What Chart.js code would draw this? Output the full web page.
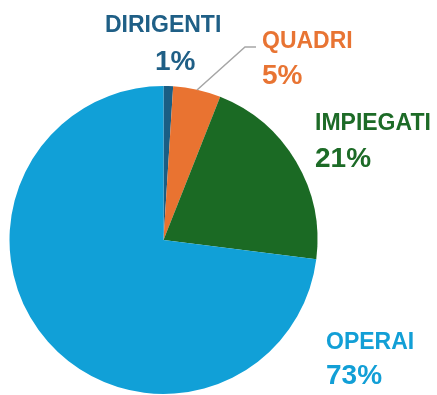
<!DOCTYPE html>
<html>
<head>
<meta charset="utf-8">
<script src="https://cdn.jsdelivr.net/npm/chart.js@4"></script>
<style>
    body { margin: 0; background: #fff; }
</style>
</head>
<body>
<canvas id="staff-chart" width="437" height="395"></canvas>
<script>
var categories = ['DIRIGENTI', 'QUADRI', 'IMPIEGATI', 'OPERAI'];
var shares = [1, 5, 21, 73];
var sliceColors = ['#1A5E84', '#E97331', '#1B6A24', '#11A0D7'];
var textColors = ['#1F5F86', '#E87433', '#1D6B27', '#129FD6'];

// where each label block sits (left x, baseline of name, baseline of percent)
var labelSpots = [
    { x: 105, y: 32, px: 155, py: 70 },
    { x: 262, y: 48, px: 262, py: 84 },
    { x: 315, y: 130, px: 315, py: 167 },
    { x: 326, y: 349, px: 326, py: 384 }
];

var outsideLabels = {
    id: 'outsideLabels',
    afterDraw: function (chart) {
        var ctx = chart.ctx;
        ctx.save();

        // leader line for QUADRI
        ctx.strokeStyle = '#A6A6A6';
        ctx.lineWidth = 1.5;
        ctx.beginPath();
        ctx.moveTo(197, 90);
        ctx.lineTo(245, 47);
        ctx.lineTo(256, 47);
        ctx.stroke();

        ctx.textAlign = 'left';
        ctx.textBaseline = 'alphabetic';
        categories.forEach(function (name, i) {
            var spot = labelSpots[i];
            ctx.fillStyle = textColors[i];
            ctx.font = 'bold 23px "Liberation Sans", Arial, sans-serif';
            ctx.fillText(name, spot.x, spot.y);
            ctx.font = 'bold 28px "Liberation Sans", Arial, sans-serif';
            ctx.fillText(shares[i] + '%', spot.px, spot.py);
        });
        ctx.restore();
    }
};

new Chart(document.getElementById('staff-chart'), {
    type: 'pie',
    data: {
        labels: categories,
        datasets: [{
            data: shares,
            backgroundColor: sliceColors,
            borderWidth: 0
        }]
    },
    options: {
        responsive: false,
        animation: false,
        layout: {
            padding: { left: 9, top: 86, right: 119, bottom: 1 }
        },
        plugins: {
            legend: { display: false },
            tooltip: { enabled: false }
        }
    },
    plugins: [outsideLabels]
});
</script>
</body>
</html>
